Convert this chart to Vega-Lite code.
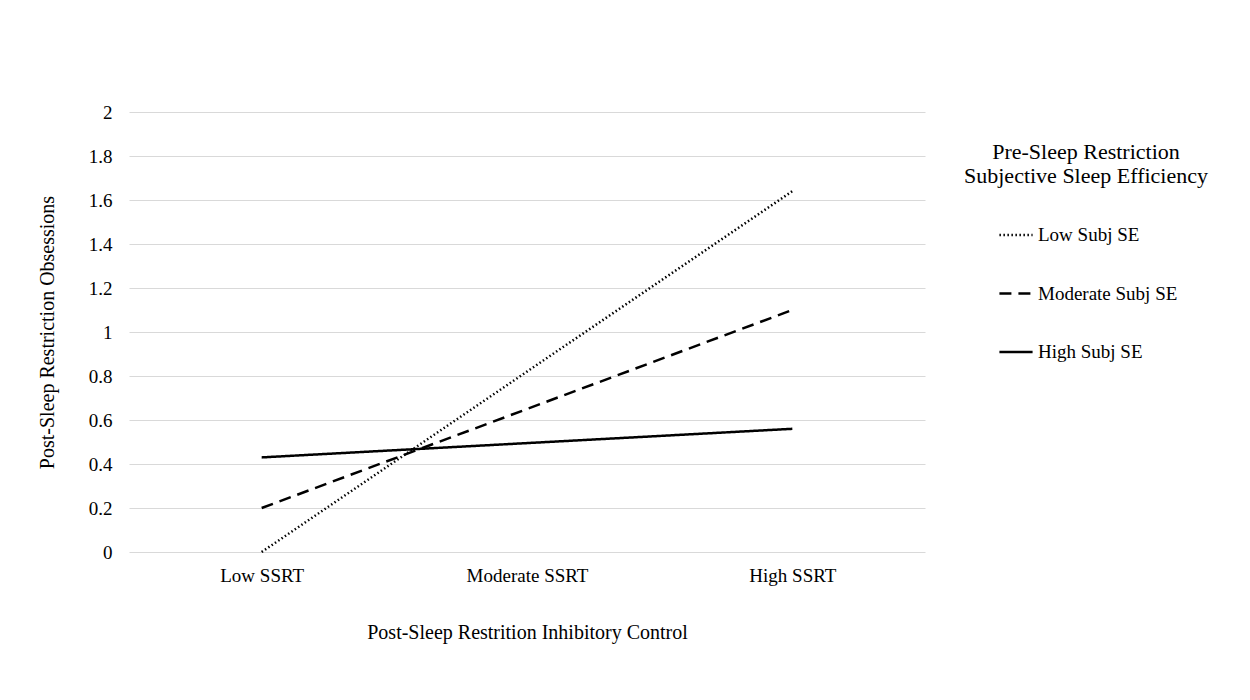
{
  "$schema": "https://vega.github.io/schema/vega-lite/v6.json",
  "autosize": "none",
  "width": 796,
  "height": 440,
  "padding": {"left": 129, "top": 112, "right": 325, "bottom": 148},
  "background": "white",
  "config": {
    "font": "Liberation Serif",
    "view": {"stroke": null},
    "axis": {"labelFont": "Liberation Serif", "titleFont": "Liberation Serif", "labelColor": "#000", "titleColor": "#000", "titleFontWeight": "normal"},
    "legend": {"labelFont": "Liberation Serif", "titleFont": "Liberation Serif", "labelColor": "#000", "titleColor": "#000", "titleFontWeight": "normal"}
  },
  "data": {
    "values": [
      {"ic": "Low SSRT", "se": "Low Subj SE", "v": 0.0},
      {"ic": "Moderate SSRT", "se": "Low Subj SE", "v": 0.82},
      {"ic": "High SSRT", "se": "Low Subj SE", "v": 1.64},
      {"ic": "Low SSRT", "se": "Moderate Subj SE", "v": 0.2},
      {"ic": "Moderate SSRT", "se": "Moderate Subj SE", "v": 0.65},
      {"ic": "High SSRT", "se": "Moderate Subj SE", "v": 1.1},
      {"ic": "Low SSRT", "se": "High Subj SE", "v": 0.43},
      {"ic": "Moderate SSRT", "se": "High Subj SE", "v": 0.495},
      {"ic": "High SSRT", "se": "High Subj SE", "v": 0.56}
    ]
  },
  "mark": {"type": "line", "color": "#000", "strokeWidth": 2.5},
  "encoding": {
    "x": {
      "field": "ic", "type": "nominal",
      "sort": ["Low SSRT", "Moderate SSRT", "High SSRT"],
      "scale": {"type": "point", "padding": 0.5},
      "axis": {"title": "Post-Sleep Restrition Inhibitory Control", "labelAngle": 0, "labelFontSize": 19, "titleFontSize": 20, "ticks": false, "domain": false, "grid": false, "labelPadding": 14, "titlePadding": 37}
    },
    "y": {
      "field": "v", "type": "quantitative",
      "scale": {"domain": [0, 2]},
      "axis": {"title": "Post-Sleep Restriction Obsessions", "values": [0, 0.2, 0.4, 0.6, 0.8, 1, 1.2, 1.4, 1.6, 1.8, 2], "format": ".1~f", "labelFontSize": 19, "titleFontSize": 20, "ticks": false, "domain": false, "gridColor": "#d9d9d9", "gridWidth": 1.2, "labelPadding": 17, "titlePadding": 31}
    },
    "strokeDash": {
      "field": "se", "type": "nominal",
      "scale": {"domain": ["Low Subj SE", "Moderate Subj SE", "High Subj SE"], "range": [[1.5, 2.5], [12, 7], [1, 0]]},
      "legend": {
        "title": ["Pre-Sleep Restriction", "Subjective Sleep Efficiency"],
        "orient": "none", "legendX": 835, "legendY": 30,
        "titleFontSize": 22, "titleLineHeight": 24, "titleAnchor": "middle", "titleAlign": "center", "titlePadding": 29, "titleLimit": 500,
        "labelFontSize": 19, "labelOffset": 4, "labelLimit": 300,
        "symbolType": "stroke", "symbolSize": 1100, "symbolStrokeWidth": 2.5, "symbolStrokeColor": "#000", "symbolOffset": 3,
        "rowPadding": 30.5
      }
    }
  }
}
